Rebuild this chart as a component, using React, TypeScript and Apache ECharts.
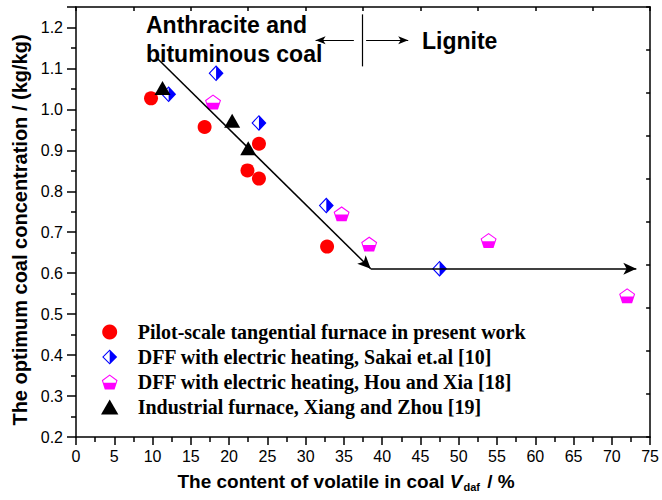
import React, { useEffect, useRef } from "react";
import * as echarts from "echarts";

// ---- data ----
const pilotScale: [number, number][] = [
  [9.8, 1.027], [16.8, 0.957], [22.4, 0.851], [23.9, 0.916], [23.9, 0.831], [32.8, 0.665],
];
const sakai: [number, number][] = [
  [12.1, 1.037], [18.3, 1.088], [23.9, 0.967], [32.7, 0.765], [47.5, 0.611],
];
const houXia: [number, number][] = [
  [17.9, 1.018], [34.7, 0.745], [38.3, 0.671], [53.9, 0.68], [72.0, 0.545],
];
const xiangZhou: [number, number][] = [
  [11.3, 1.052], [20.4, 0.972], [22.5, 0.905],
];
const seriesNames = [
  "Pilot-scale tangential furnace in present work",
  "DFF with electric heating, Sakai et.al [10]",
  "DFF with electric heating, Hou and Xia [18]",
  "Industrial furnace, Xiang and Zhou [19]",
];
// trend arrows (data coordinates): [x1, y1, x2, y2, arrow?]
const trendArrows: [number, number, number, number, boolean][] = [
  [10.6, 1.125, 38.5, 0.611, true],
  [38.5, 0.611, 73.2, 0.611, true],
];
const dividerArrows: [number, number, number, number, boolean][] = [
  [37.4, 1.232, 37.4, 1.105, false],
  [36.3, 1.169, 31.3, 1.169, true],
  [37.9, 1.169, 43.4, 1.169, true],
];
const xMin = 0, xMax = 75, xStep = 5;
const yMin = 0.2, yMax = 1.25, yStep = 0.1;

// half-filled symbols (outer shape minus inner hole of opposite winding)
const halfDiamond =
  "path://M0,-1L1,0L0,1L-1,0Z M0,-0.8L-0.8,0L0,0.8Z";
const halfPentagon =
  "path://M0,-1L0.951,-0.309L0.588,0.809L-0.588,0.809L-0.951,-0.309Z M0,-0.84L-0.8,-0.26L-0.72,0L0.72,0L0.8,-0.26Z";
const triangleIcon = "path://M0,-1L1.1,0.9L-1.1,0.9Z";

const SANS = "'Liberation Sans', Arial, sans-serif";
const SERIF = "'Liberation Serif', 'Times New Roman', serif";

function toMarkLine(arr: [number, number, number, number, boolean][], width: number, size: number[]) {
  return arr.map(([x1, y1, x2, y2, arrow]) => [
    { coord: [x1, y1], symbol: "none" },
    { coord: [x2, y2], symbol: arrow ? "arrow" : "none", symbolSize: size, lineStyle: { width } },
  ]);
}

const legendText = {
  fontFamily: SERIF,
  fontWeight: "bold",
  fontSize: 20,
  lineHeight: 20,
  color: "#000",
};

export default function App() {
  const ref = useRef<HTMLDivElement>(null);
  useEffect(() => {
    document.body.style.margin = "0";
    const chart = echarts.init(ref.current!, undefined, { renderer: "svg" });
    chart.setOption({
      animation: false,
      backgroundColor: "#ffffff",
      grid: { left: 76, right: 9, top: 7, bottom: 63, containLabel: false },
      legend: {
        orient: "vertical",
        left: 96,
        top: 317,
        itemWidth: 46,
        itemHeight: 15,
        itemGap: 5,
        symbolKeepAspect: true,
        data: [
          { name: seriesNames[0], textStyle: legendText },
          { name: seriesNames[1], textStyle: legendText },
          { name: seriesNames[2], textStyle: legendText },
          { name: seriesNames[3], icon: triangleIcon, textStyle: legendText },
        ],
        textStyle: legendText,
        selectedMode: false,
      },
      xAxis: [
        {
          type: "value",
          min: xMin,
          max: xMax,
          interval: xStep,
          position: "bottom",
          name: "{a|The content of volatile in coal }{v|V}{s|daf}{a| / %}",
          nameLocation: "middle",
          nameGap: 33,
          nameTextStyle: {
            padding: [0, 34, 0, 0],
            rich: {
              a: { fontFamily: SANS, fontWeight: "bold", fontSize: 19, color: "#000" },
              v: { fontFamily: SANS, fontWeight: "bold", fontStyle: "italic", fontSize: 19, color: "#000" },
              s: { fontFamily: SANS, fontWeight: "bold", fontSize: 11, color: "#000", padding: [11, 2, 0, 1] },
            },
          },
          axisLine: { show: true, onZero: false, lineStyle: { color: "#000", width: 1.5 } },
          axisTick: { show: true, inside: false, length: 8, lineStyle: { color: "#000", width: 1.5 } },
          minorTick: { show: true, splitNumber: 2, length: 5, lineStyle: { color: "#000", width: 1.5 } },
          axisLabel: { margin: 11, fontFamily: SANS, fontSize: 16, color: "#000" },
          splitLine: { show: false },
        },
        {
          type: "value",
          min: xMin,
          max: xMax,
          interval: 7.5,
          position: "top",
          axisLine: { show: true, onZero: false, lineStyle: { color: "#000", width: 1.5 } },
          axisTick: { show: true, inside: true, length: 4, lineStyle: { color: "#000", width: 1.5 } },
          axisLabel: { show: false },
          splitLine: { show: false },
        },
      ],
      yAxis: [
        {
          type: "value",
          min: yMin,
          max: yMax,
          interval: yStep,
          position: "left",
          name: "The optimum coal concentration / (kg/kg)",
          nameLocation: "middle",
          nameGap: 46,
          nameTextStyle: {
            fontFamily: SANS,
            fontWeight: "bold",
            fontSize: 20,
            color: "#000",
            padding: [0, 16, 0, 0],
          },
          axisLine: { show: true, onZero: false, lineStyle: { color: "#000", width: 1.5 } },
          axisTick: { show: true, inside: false, length: 9, lineStyle: { color: "#000", width: 1.5 } },
          minorTick: { show: true, splitNumber: 2, length: 5, lineStyle: { color: "#000", width: 1.5 } },
          axisLabel: {
            margin: 13,
            fontFamily: SANS,
            fontSize: 16,
            color: "#000",
            formatter: (v: number) => (v > 1.21 ? "" : v.toFixed(1)),
          },
          splitLine: { show: false },
        },
        {
          type: "value",
          min: yMin,
          max: yMax,
          interval: 0.105,
          position: "right",
          axisLine: { show: true, onZero: false, lineStyle: { color: "#000", width: 1.5 } },
          axisTick: { show: true, inside: true, length: 4, lineStyle: { color: "#000", width: 1.5 } },
          axisLabel: { show: false },
          splitLine: { show: false },
        },
      ],
      graphic: [
        {
          type: "text",
          left: 146,
          top: 13,
          style: { text: "Anthracite and", font: `bold 23px ${SANS}`, fill: "#000" },
        },
        {
          type: "text",
          left: 146,
          top: 42,
          style: { text: "bituminous coal", font: `bold 23px ${SANS}`, fill: "#000" },
        },
        {
          type: "text",
          left: 422,
          top: 29,
          style: { text: "Lignite", font: `bold 23px ${SANS}`, fill: "#000" },
        },
      ],
      series: [
        {
          name: seriesNames[0],
          type: "scatter",
          data: pilotScale,
          symbol: "circle",
          symbolSize: 14,
          itemStyle: { color: "#ff0000", opacity: 1 },
          z: 3,
        },
        {
          name: seriesNames[1],
          type: "scatter",
          data: sakai,
          symbol: halfDiamond,
          symbolSize: [15, 16],
          itemStyle: { color: "#0000ff", opacity: 1 },
          z: 3,
        },
        {
          name: seriesNames[2],
          type: "scatter",
          data: houXia,
          symbol: halfPentagon,
          symbolSize: [16, 15],
          itemStyle: { color: "#ff00ff", opacity: 1 },
          z: 3,
        },
        {
          name: seriesNames[3],
          type: "scatter",
          data: xiangZhou,
          symbol: "triangle",
          symbolSize: [16, 14],
          itemStyle: { color: "#000000", opacity: 1 },
          z: 3,
        },
        {
          name: "arrows",
          type: "scatter",
          data: [],
          silent: true,
          z: 2,
          markLine: {
            silent: true,
            symbol: ["none", "arrow"],
            label: { show: false },
            emphasis: { disabled: true },
            lineStyle: { color: "#000", type: "solid", width: 1.5 },
            data: [
              ...toMarkLine(trendArrows, 1.5, [9, 13]),
              ...toMarkLine(dividerArrows, 1.2, [6, 10]),
            ],
          },
        },
      ],
    });
    return () => chart.dispose();
  }, []);
  return <div ref={ref} style={{ position: "absolute", left: 0, top: 0, width: 662, height: 500 }} />;
}
